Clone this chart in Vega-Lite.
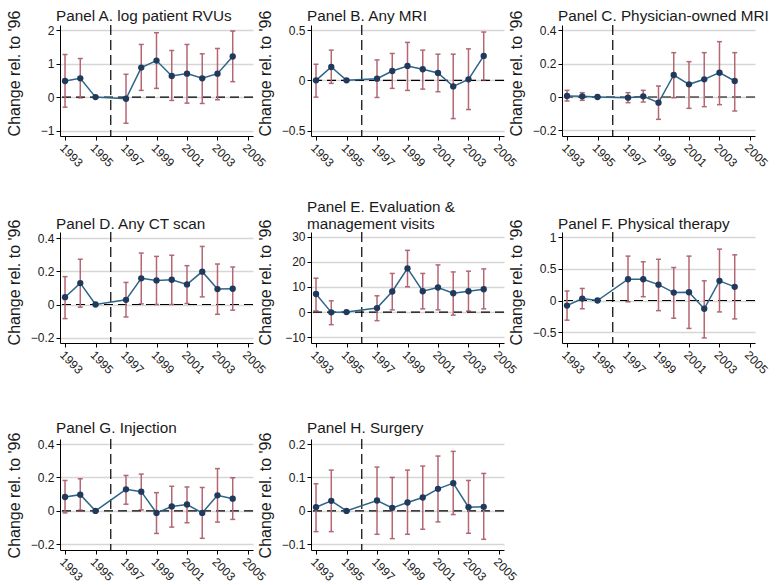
{
  "$schema": "https://vega.github.io/schema/vega-lite/v6.json",
  "padding": {"left": 6, "top": 8, "right": 5, "bottom": 2},
  "bounds": "flush",
  "columns": 3,
  "spacing": {"row": 96, "column": 58},
  "data": {"values": [
    {"p":"A","year":1993,"b":0.48,"lo":-0.30,"hi":1.27},
    {"p":"A","year":1994,"b":0.56,"lo":-0.02,"hi":1.15},
    {"p":"A","year":1995,"b":0,"lo":null,"hi":null},
    {"p":"A","year":1997,"b":-0.05,"lo":-0.78,"hi":0.68},
    {"p":"A","year":1998,"b":0.88,"lo":0.20,"hi":1.57},
    {"p":"A","year":1999,"b":1.09,"lo":0.26,"hi":1.92},
    {"p":"A","year":2000,"b":0.63,"lo":-0.10,"hi":1.39},
    {"p":"A","year":2001,"b":0.70,"lo":-0.18,"hi":1.57},
    {"p":"A","year":2002,"b":0.56,"lo":-0.19,"hi":1.29},
    {"p":"A","year":2003,"b":0.70,"lo":-0.08,"hi":1.45},
    {"p":"A","year":2004,"b":1.21,"lo":0.46,"hi":1.97},
    {"p":"B","year":1993,"b":0,"lo":-0.167,"hi":0.16},
    {"p":"B","year":1994,"b":0.133,"lo":-0.03,"hi":0.30},
    {"p":"B","year":1995,"b":0,"lo":null,"hi":null},
    {"p":"B","year":1997,"b":0.017,"lo":-0.17,"hi":0.203},
    {"p":"B","year":1998,"b":0.093,"lo":-0.08,"hi":0.267},
    {"p":"B","year":1999,"b":0.143,"lo":-0.10,"hi":0.377},
    {"p":"B","year":2000,"b":0.11,"lo":-0.087,"hi":0.30},
    {"p":"B","year":2001,"b":0.073,"lo":-0.113,"hi":0.26},
    {"p":"B","year":2002,"b":-0.06,"lo":-0.38,"hi":0.26},
    {"p":"B","year":2003,"b":0.01,"lo":-0.29,"hi":0.313},
    {"p":"B","year":2004,"b":0.243,"lo":0.0,"hi":0.48},
    {"p":"C","year":1993,"b":0.006,"lo":-0.024,"hi":0.04},
    {"p":"C","year":1994,"b":0.004,"lo":-0.02,"hi":0.026},
    {"p":"C","year":1995,"b":0,"lo":null,"hi":null},
    {"p":"C","year":1997,"b":-0.004,"lo":-0.034,"hi":0.026},
    {"p":"C","year":1998,"b":0.004,"lo":-0.03,"hi":0.04},
    {"p":"C","year":1999,"b":-0.034,"lo":-0.134,"hi":0.066},
    {"p":"C","year":2000,"b":0.132,"lo":-0.004,"hi":0.266},
    {"p":"C","year":2001,"b":0.076,"lo":-0.068,"hi":0.212},
    {"p":"C","year":2002,"b":0.106,"lo":-0.058,"hi":0.266},
    {"p":"C","year":2003,"b":0.146,"lo":-0.046,"hi":0.332},
    {"p":"C","year":2004,"b":0.096,"lo":-0.084,"hi":0.266},
    {"p":"D","year":1993,"b":0.044,"lo":-0.085,"hi":0.168},
    {"p":"D","year":1994,"b":0.129,"lo":-0.016,"hi":0.273},
    {"p":"D","year":1995,"b":0,"lo":null,"hi":null},
    {"p":"D","year":1997,"b":0.028,"lo":-0.075,"hi":0.133},
    {"p":"D","year":1998,"b":0.158,"lo":0.004,"hi":0.31},
    {"p":"D","year":1999,"b":0.145,"lo":0.0,"hi":0.29},
    {"p":"D","year":2000,"b":0.149,"lo":0.0,"hi":0.297},
    {"p":"D","year":2001,"b":0.121,"lo":0.006,"hi":0.234},
    {"p":"D","year":2002,"b":0.198,"lo":0.046,"hi":0.35},
    {"p":"D","year":2003,"b":0.093,"lo":-0.059,"hi":0.244},
    {"p":"D","year":2004,"b":0.095,"lo":-0.034,"hi":0.226},
    {"p":"E","year":1993,"b":7.2,"lo":0.5,"hi":13.5},
    {"p":"E","year":1994,"b":-0.1,"lo":-5.0,"hi":4.5},
    {"p":"E","year":1995,"b":0,"lo":null,"hi":null},
    {"p":"E","year":1997,"b":1.6,"lo":-3.4,"hi":6.5},
    {"p":"E","year":1998,"b":8.2,"lo":0.9,"hi":15.4},
    {"p":"E","year":1999,"b":17.4,"lo":10.1,"hi":24.6},
    {"p":"E","year":2000,"b":8.3,"lo":1.3,"hi":15.4},
    {"p":"E","year":2001,"b":9.8,"lo":0.9,"hi":18.8},
    {"p":"E","year":2002,"b":7.5,"lo":-1.2,"hi":16.0},
    {"p":"E","year":2003,"b":8.3,"lo":0.4,"hi":16.3},
    {"p":"E","year":2004,"b":9.1,"lo":1.3,"hi":17.2},
    {"p":"F","year":1993,"b":-0.08,"lo":-0.31,"hi":0.15},
    {"p":"F","year":1994,"b":0.03,"lo":-0.13,"hi":0.19},
    {"p":"F","year":1995,"b":0,"lo":null,"hi":null},
    {"p":"F","year":1997,"b":0.335,"lo":-0.02,"hi":0.70},
    {"p":"F","year":1998,"b":0.335,"lo":0.06,"hi":0.61},
    {"p":"F","year":1999,"b":0.25,"lo":-0.16,"hi":0.65},
    {"p":"F","year":2000,"b":0.125,"lo":-0.28,"hi":0.52},
    {"p":"F","year":2001,"b":0.13,"lo":-0.44,"hi":0.70},
    {"p":"F","year":2002,"b":-0.13,"lo":-0.59,"hi":0.31},
    {"p":"F","year":2003,"b":0.31,"lo":-0.18,"hi":0.81},
    {"p":"F","year":2004,"b":0.215,"lo":-0.29,"hi":0.72},
    {"p":"G","year":1993,"b":0.083,"lo":-0.012,"hi":0.182},
    {"p":"G","year":1994,"b":0.097,"lo":0.004,"hi":0.192},
    {"p":"G","year":1995,"b":0,"lo":null,"hi":null},
    {"p":"G","year":1997,"b":0.129,"lo":0.04,"hi":0.212},
    {"p":"G","year":1998,"b":0.115,"lo":0.006,"hi":0.22},
    {"p":"G","year":1999,"b":-0.012,"lo":-0.135,"hi":0.109},
    {"p":"G","year":2000,"b":0.026,"lo":-0.097,"hi":0.147},
    {"p":"G","year":2001,"b":0.038,"lo":-0.071,"hi":0.143},
    {"p":"G","year":2002,"b":-0.012,"lo":-0.164,"hi":0.14},
    {"p":"G","year":2003,"b":0.093,"lo":-0.067,"hi":0.253},
    {"p":"G","year":2004,"b":0.073,"lo":-0.051,"hi":0.198},
    {"p":"H","year":1993,"b":0.011,"lo":-0.062,"hi":0.081},
    {"p":"H","year":1994,"b":0.030,"lo":-0.062,"hi":0.122},
    {"p":"H","year":1995,"b":0,"lo":null,"hi":null},
    {"p":"H","year":1997,"b":0.031,"lo":-0.07,"hi":0.131},
    {"p":"H","year":1998,"b":0.009,"lo":-0.083,"hi":0.10},
    {"p":"H","year":1999,"b":0.025,"lo":-0.07,"hi":0.122},
    {"p":"H","year":2000,"b":0.04,"lo":-0.055,"hi":0.134},
    {"p":"H","year":2001,"b":0.066,"lo":-0.033,"hi":0.164},
    {"p":"H","year":2002,"b":0.083,"lo":-0.011,"hi":0.178},
    {"p":"H","year":2003,"b":0.011,"lo":-0.067,"hi":0.091},
    {"p":"H","year":2004,"b":0.012,"lo":-0.085,"hi":0.112}
  ]},
  "concat": [
    {
      "width": 193, "height": 111,
      "title": {"text": "Panel A. log patient RVUs", "dy": 16},
      "transform": [{"filter": "datum.p === 'A'"}],
      "layer": [
        {"data": {"values": [{}]}, "mark": {"type": "rule", "strokeDash": [9, 5], "color": "#000", "strokeWidth": 1.2}, "encoding": {"y": {"datum": 0, "type": "quantitative", "scale": {"domain": [-1.16, 2.15], "nice": false, "zero": false}}}},
        {"data": {"values": [{}]}, "mark": {"type": "rule", "strokeDash": [10, 5], "color": "#000", "strokeWidth": 1.2}, "encoding": {"x": {"datum": 1996, "type": "quantitative", "scale": {"domain": [1992.67, 2005.33], "nice": false, "zero": false}}}},
        {"mark": {"type": "errorbar", "ticks": {"color": "#8e2a3b", "size": 5, "thickness": 1.5}, "rule": {"color": "#b56673", "strokeWidth": 1.5}},
         "encoding": {"x": {"field": "year", "type": "quantitative", "title": null, "scale": {"domain": [1992.67, 2005.33], "nice": false, "zero": false}, "axis": {"values": [1993, 1995, 1997, 1999, 2001, 2003, 2005], "format": "d", "tickCount": 50}},
                      "y": {"field": "lo", "type": "quantitative", "title": "Change rel. to '96", "scale": {"domain": [-1.16, 2.15], "nice": false, "zero": false}, "axis": {"values": [-1, 0, 1, 2], "titleY": 48, "tickCount": 50}}, "y2": {"field": "hi"}}},
        {"mark": {"type": "line", "color": "#2d6487", "strokeWidth": 1.5, "point": {"filled": true, "size": 40, "color": "#1f3a5c", "opacity": 1}},
         "encoding": {"x": {"field": "year", "type": "quantitative", "title": null, "scale": {"domain": [1992.67, 2005.33], "nice": false, "zero": false}, "axis": {"values": [1993, 1995, 1997, 1999, 2001, 2003, 2005], "format": "d", "tickCount": 50}},
                      "y": {"field": "b", "type": "quantitative", "title": "Change rel. to '96", "scale": {"domain": [-1.16, 2.15], "nice": false, "zero": false}, "axis": {"values": [-1, 0, 1, 2], "titleY": 48, "tickCount": 50}}}}
      ]
    },
    {
      "width": 193, "height": 111,
      "title": {"text": "Panel B. Any MRI", "dy": 16},
      "transform": [{"filter": "datum.p === 'B'"}],
      "layer": [
        {"data": {"values": [{}]}, "mark": {"type": "rule", "strokeDash": [9, 5], "color": "#000", "strokeWidth": 1.2}, "encoding": {"y": {"datum": 0, "type": "quantitative", "scale": {"domain": [-0.553, 0.55], "nice": false, "zero": false}}}},
        {"data": {"values": [{}]}, "mark": {"type": "rule", "strokeDash": [10, 5], "color": "#000", "strokeWidth": 1.2}, "encoding": {"x": {"datum": 1996, "type": "quantitative", "scale": {"domain": [1992.67, 2005.33], "nice": false, "zero": false}}}},
        {"mark": {"type": "errorbar", "ticks": {"color": "#8e2a3b", "size": 5, "thickness": 1.5}, "rule": {"color": "#b56673", "strokeWidth": 1.5}},
         "encoding": {"x": {"field": "year", "type": "quantitative", "title": null, "scale": {"domain": [1992.67, 2005.33], "nice": false, "zero": false}, "axis": {"values": [1993, 1995, 1997, 1999, 2001, 2003, 2005], "format": "d", "tickCount": 50}},
                      "y": {"field": "lo", "type": "quantitative", "title": "Change rel. to '96", "scale": {"domain": [-0.553, 0.55], "nice": false, "zero": false}, "axis": {"values": [-0.5, 0, 0.5], "titleY": 48, "tickCount": 50}}, "y2": {"field": "hi"}}},
        {"mark": {"type": "line", "color": "#2d6487", "strokeWidth": 1.5, "point": {"filled": true, "size": 40, "color": "#1f3a5c", "opacity": 1}},
         "encoding": {"x": {"field": "year", "type": "quantitative", "title": null, "scale": {"domain": [1992.67, 2005.33], "nice": false, "zero": false}, "axis": {"values": [1993, 1995, 1997, 1999, 2001, 2003, 2005], "format": "d", "tickCount": 50}},
                      "y": {"field": "b", "type": "quantitative", "title": "Change rel. to '96", "scale": {"domain": [-0.553, 0.55], "nice": false, "zero": false}, "axis": {"values": [-0.5, 0, 0.5], "titleY": 48, "tickCount": 50}}}}
      ]
    },
    {
      "width": 193, "height": 111,
      "title": {"text": "Panel C. Physician-owned MRI", "dy": 16},
      "transform": [{"filter": "datum.p === 'C'"}],
      "layer": [
        {"data": {"values": [{}]}, "mark": {"type": "rule", "strokeDash": [9, 5], "color": "#000", "strokeWidth": 1.2}, "encoding": {"y": {"datum": 0, "type": "quantitative", "scale": {"domain": [-0.234, 0.432], "nice": false, "zero": false}}}},
        {"data": {"values": [{}]}, "mark": {"type": "rule", "strokeDash": [10, 5], "color": "#000", "strokeWidth": 1.2}, "encoding": {"x": {"datum": 1996, "type": "quantitative", "scale": {"domain": [1992.67, 2005.33], "nice": false, "zero": false}}}},
        {"mark": {"type": "errorbar", "ticks": {"color": "#8e2a3b", "size": 5, "thickness": 1.5}, "rule": {"color": "#b56673", "strokeWidth": 1.5}},
         "encoding": {"x": {"field": "year", "type": "quantitative", "title": null, "scale": {"domain": [1992.67, 2005.33], "nice": false, "zero": false}, "axis": {"values": [1993, 1995, 1997, 1999, 2001, 2003, 2005], "format": "d", "tickCount": 50}},
                      "y": {"field": "lo", "type": "quantitative", "title": "Change rel. to '96", "scale": {"domain": [-0.234, 0.432], "nice": false, "zero": false}, "axis": {"values": [-0.2, 0, 0.2, 0.4], "titleY": 48, "tickCount": 50}}, "y2": {"field": "hi"}}},
        {"mark": {"type": "line", "color": "#2d6487", "strokeWidth": 1.5, "point": {"filled": true, "size": 40, "color": "#1f3a5c", "opacity": 1}},
         "encoding": {"x": {"field": "year", "type": "quantitative", "title": null, "scale": {"domain": [1992.67, 2005.33], "nice": false, "zero": false}, "axis": {"values": [1993, 1995, 1997, 1999, 2001, 2003, 2005], "format": "d", "tickCount": 50}},
                      "y": {"field": "b", "type": "quantitative", "title": "Change rel. to '96", "scale": {"domain": [-0.234, 0.432], "nice": false, "zero": false}, "axis": {"values": [-0.2, 0, 0.2, 0.4], "titleY": 48, "tickCount": 50}}}}
      ]
    },
    {
      "width": 193, "height": 111,
      "title": {"text": "Panel D. Any CT scan", "dy": 15},
      "transform": [{"filter": "datum.p === 'D'"}],
      "layer": [
        {"data": {"values": [{}]}, "mark": {"type": "rule", "strokeDash": [9, 5], "color": "#000", "strokeWidth": 1.2}, "encoding": {"y": {"datum": 0, "type": "quantitative", "scale": {"domain": [-0.232, 0.437], "nice": false, "zero": false}}}},
        {"data": {"values": [{}]}, "mark": {"type": "rule", "strokeDash": [10, 5], "color": "#000", "strokeWidth": 1.2}, "encoding": {"x": {"datum": 1996, "type": "quantitative", "scale": {"domain": [1992.67, 2005.33], "nice": false, "zero": false}}}},
        {"mark": {"type": "errorbar", "ticks": {"color": "#8e2a3b", "size": 5, "thickness": 1.5}, "rule": {"color": "#b56673", "strokeWidth": 1.5}},
         "encoding": {"x": {"field": "year", "type": "quantitative", "title": null, "scale": {"domain": [1992.67, 2005.33], "nice": false, "zero": false}, "axis": {"values": [1993, 1995, 1997, 1999, 2001, 2003, 2005], "format": "d", "tickCount": 50}},
                      "y": {"field": "lo", "type": "quantitative", "title": "Change rel. to '96", "scale": {"domain": [-0.232, 0.437], "nice": false, "zero": false}, "axis": {"values": [-0.2, 0, 0.2, 0.4], "titleY": 50, "tickCount": 50}}, "y2": {"field": "hi"}}},
        {"mark": {"type": "line", "color": "#2d6487", "strokeWidth": 1.5, "point": {"filled": true, "size": 40, "color": "#1f3a5c", "opacity": 1}},
         "encoding": {"x": {"field": "year", "type": "quantitative", "title": null, "scale": {"domain": [1992.67, 2005.33], "nice": false, "zero": false}, "axis": {"values": [1993, 1995, 1997, 1999, 2001, 2003, 2005], "format": "d", "tickCount": 50}},
                      "y": {"field": "b", "type": "quantitative", "title": "Change rel. to '96", "scale": {"domain": [-0.232, 0.437], "nice": false, "zero": false}, "axis": {"values": [-0.2, 0, 0.2, 0.4], "titleY": 50, "tickCount": 50}}}}
      ]
    },
    {
      "width": 193, "height": 111,
      "title": {"text": ["Panel E. Evaluation &", "management visits"], "dy": 15},
      "transform": [{"filter": "datum.p === 'E'"}],
      "layer": [
        {"data": {"values": [{}]}, "mark": {"type": "rule", "strokeDash": [9, 5], "color": "#000", "strokeWidth": 1.2}, "encoding": {"y": {"datum": 0, "type": "quantitative", "scale": {"domain": [-12.3, 31.9], "nice": false, "zero": false}}}},
        {"data": {"values": [{}]}, "mark": {"type": "rule", "strokeDash": [10, 5], "color": "#000", "strokeWidth": 1.2}, "encoding": {"x": {"datum": 1996, "type": "quantitative", "scale": {"domain": [1992.67, 2005.33], "nice": false, "zero": false}}}},
        {"mark": {"type": "errorbar", "ticks": {"color": "#8e2a3b", "size": 5, "thickness": 1.5}, "rule": {"color": "#b56673", "strokeWidth": 1.5}},
         "encoding": {"x": {"field": "year", "type": "quantitative", "title": null, "scale": {"domain": [1992.67, 2005.33], "nice": false, "zero": false}, "axis": {"values": [1993, 1995, 1997, 1999, 2001, 2003, 2005], "format": "d", "tickCount": 50}},
                      "y": {"field": "lo", "type": "quantitative", "title": "Change rel. to '96", "scale": {"domain": [-12.3, 31.9], "nice": false, "zero": false}, "axis": {"values": [-10, 0, 10, 20, 30], "titleY": 50, "tickCount": 50}}, "y2": {"field": "hi"}}},
        {"mark": {"type": "line", "color": "#2d6487", "strokeWidth": 1.5, "point": {"filled": true, "size": 40, "color": "#1f3a5c", "opacity": 1}},
         "encoding": {"x": {"field": "year", "type": "quantitative", "title": null, "scale": {"domain": [1992.67, 2005.33], "nice": false, "zero": false}, "axis": {"values": [1993, 1995, 1997, 1999, 2001, 2003, 2005], "format": "d", "tickCount": 50}},
                      "y": {"field": "b", "type": "quantitative", "title": "Change rel. to '96", "scale": {"domain": [-12.3, 31.9], "nice": false, "zero": false}, "axis": {"values": [-10, 0, 10, 20, 30], "titleY": 50, "tickCount": 50}}}}
      ]
    },
    {
      "width": 193, "height": 111,
      "title": {"text": "Panel F. Physical therapy", "dy": 15},
      "transform": [{"filter": "datum.p === 'F'"}],
      "layer": [
        {"data": {"values": [{}]}, "mark": {"type": "rule", "strokeDash": [9, 5], "color": "#000", "strokeWidth": 1.2}, "encoding": {"y": {"datum": 0, "type": "quantitative", "scale": {"domain": [-0.67, 1.08], "nice": false, "zero": false}}}},
        {"data": {"values": [{}]}, "mark": {"type": "rule", "strokeDash": [10, 5], "color": "#000", "strokeWidth": 1.2}, "encoding": {"x": {"datum": 1996, "type": "quantitative", "scale": {"domain": [1992.67, 2005.33], "nice": false, "zero": false}}}},
        {"mark": {"type": "errorbar", "ticks": {"color": "#8e2a3b", "size": 5, "thickness": 1.5}, "rule": {"color": "#b56673", "strokeWidth": 1.5}},
         "encoding": {"x": {"field": "year", "type": "quantitative", "title": null, "scale": {"domain": [1992.67, 2005.33], "nice": false, "zero": false}, "axis": {"values": [1993, 1995, 1997, 1999, 2001, 2003, 2005], "format": "d", "tickCount": 50}},
                      "y": {"field": "lo", "type": "quantitative", "title": "Change rel. to '96", "scale": {"domain": [-0.67, 1.08], "nice": false, "zero": false}, "axis": {"values": [-0.5, 0, 0.5, 1], "titleY": 50, "tickCount": 50}}, "y2": {"field": "hi"}}},
        {"mark": {"type": "line", "color": "#2d6487", "strokeWidth": 1.5, "point": {"filled": true, "size": 40, "color": "#1f3a5c", "opacity": 1}},
         "encoding": {"x": {"field": "year", "type": "quantitative", "title": null, "scale": {"domain": [1992.67, 2005.33], "nice": false, "zero": false}, "axis": {"values": [1993, 1995, 1997, 1999, 2001, 2003, 2005], "format": "d", "tickCount": 50}},
                      "y": {"field": "b", "type": "quantitative", "title": "Change rel. to '96", "scale": {"domain": [-0.67, 1.08], "nice": false, "zero": false}, "axis": {"values": [-0.5, 0, 0.5, 1], "titleY": 50, "tickCount": 50}}}}
      ]
    },
    {
      "width": 193, "height": 111,
      "title": {"text": "Panel G. Injection", "dy": 6},
      "transform": [{"filter": "datum.p === 'G'"}],
      "layer": [
        {"data": {"values": [{}]}, "mark": {"type": "rule", "strokeDash": [9, 5], "color": "#000", "strokeWidth": 1.2}, "encoding": {"y": {"datum": 0, "type": "quantitative", "scale": {"domain": [-0.234, 0.43], "nice": false, "zero": false}}}},
        {"data": {"values": [{}]}, "mark": {"type": "rule", "strokeDash": [10, 5], "color": "#000", "strokeWidth": 1.2}, "encoding": {"x": {"datum": 1996, "type": "quantitative", "scale": {"domain": [1992.67, 2005.33], "nice": false, "zero": false}}}},
        {"mark": {"type": "errorbar", "ticks": {"color": "#8e2a3b", "size": 5, "thickness": 1.5}, "rule": {"color": "#b56673", "strokeWidth": 1.5}},
         "encoding": {"x": {"field": "year", "type": "quantitative", "title": null, "scale": {"domain": [1992.67, 2005.33], "nice": false, "zero": false}, "axis": {"values": [1993, 1995, 1997, 1999, 2001, 2003, 2005], "format": "d", "tickCount": 50}},
                      "y": {"field": "lo", "type": "quantitative", "title": "Change rel. to '96", "scale": {"domain": [-0.234, 0.43], "nice": false, "zero": false}, "axis": {"values": [-0.2, 0, 0.2, 0.4], "titleY": 56, "tickCount": 50}}, "y2": {"field": "hi"}}},
        {"mark": {"type": "line", "color": "#2d6487", "strokeWidth": 1.5, "point": {"filled": true, "size": 40, "color": "#1f3a5c", "opacity": 1}},
         "encoding": {"x": {"field": "year", "type": "quantitative", "title": null, "scale": {"domain": [1992.67, 2005.33], "nice": false, "zero": false}, "axis": {"values": [1993, 1995, 1997, 1999, 2001, 2003, 2005], "format": "d", "tickCount": 50}},
                      "y": {"field": "b", "type": "quantitative", "title": "Change rel. to '96", "scale": {"domain": [-0.234, 0.43], "nice": false, "zero": false}, "axis": {"values": [-0.2, 0, 0.2, 0.4], "titleY": 56, "tickCount": 50}}}}
      ]
    },
    {
      "width": 193, "height": 111,
      "title": {"text": "Panel H. Surgery", "dy": 6},
      "transform": [{"filter": "datum.p === 'H'"}],
      "layer": [
        {"data": {"values": [{}]}, "mark": {"type": "rule", "strokeDash": [9, 5], "color": "#000", "strokeWidth": 1.2}, "encoding": {"y": {"datum": 0, "type": "quantitative", "scale": {"domain": [-0.117, 0.215], "nice": false, "zero": false}}}},
        {"data": {"values": [{}]}, "mark": {"type": "rule", "strokeDash": [10, 5], "color": "#000", "strokeWidth": 1.2}, "encoding": {"x": {"datum": 1996, "type": "quantitative", "scale": {"domain": [1992.67, 2005.33], "nice": false, "zero": false}}}},
        {"mark": {"type": "errorbar", "ticks": {"color": "#8e2a3b", "size": 5, "thickness": 1.5}, "rule": {"color": "#b56673", "strokeWidth": 1.5}},
         "encoding": {"x": {"field": "year", "type": "quantitative", "title": null, "scale": {"domain": [1992.67, 2005.33], "nice": false, "zero": false}, "axis": {"values": [1993, 1995, 1997, 1999, 2001, 2003, 2005], "format": "d", "tickCount": 50}},
                      "y": {"field": "lo", "type": "quantitative", "title": "Change rel. to '96", "scale": {"domain": [-0.117, 0.215], "nice": false, "zero": false}, "axis": {"values": [-0.1, 0, 0.1, 0.2], "titleY": 56, "tickCount": 50}}, "y2": {"field": "hi"}}},
        {"mark": {"type": "line", "color": "#2d6487", "strokeWidth": 1.5, "point": {"filled": true, "size": 40, "color": "#1f3a5c", "opacity": 1}},
         "encoding": {"x": {"field": "year", "type": "quantitative", "title": null, "scale": {"domain": [1992.67, 2005.33], "nice": false, "zero": false}, "axis": {"values": [1993, 1995, 1997, 1999, 2001, 2003, 2005], "format": "d", "tickCount": 50}},
                      "y": {"field": "b", "type": "quantitative", "title": "Change rel. to '96", "scale": {"domain": [-0.117, 0.215], "nice": false, "zero": false}, "axis": {"values": [-0.1, 0, 0.1, 0.2], "titleY": 56, "tickCount": 50}}}}
      ]
    }
  ],
  "config": {
    "view": {"stroke": null},
    "font": "Liberation Sans",
    "axis": {"domainColor": "#000", "domainWidth": 1, "tickColor": "#000", "tickSize": 4, "labelFont": "Liberation Sans", "labelFontSize": 12, "labelColor": "#1a1a1a", "labelPadding": 2, "labelOverlap": false, "titleFont": "Liberation Sans", "titleFontWeight": "normal", "titleColor": "#1a1a1a", "gridColor": "#d6d6d6", "gridWidth": 1.5, "labelFlush": false},
    "axisX": {"grid": false, "labelAngle": 45, "labelAlign": "left", "labelBaseline": "top"},
    "axisY": {"grid": true, "titleFontSize": 16, "titleX": -46, "titleBaseline": "middle", "titleAngle": 270, "format": "~f"},
    "title": {"anchor": "start", "frame": "group", "fontSize": 15.3, "fontWeight": "normal", "font": "Liberation Sans", "color": "#1a1a1a", "offset": 2, "dx": -4, "lineHeight": 17}
  }
}
